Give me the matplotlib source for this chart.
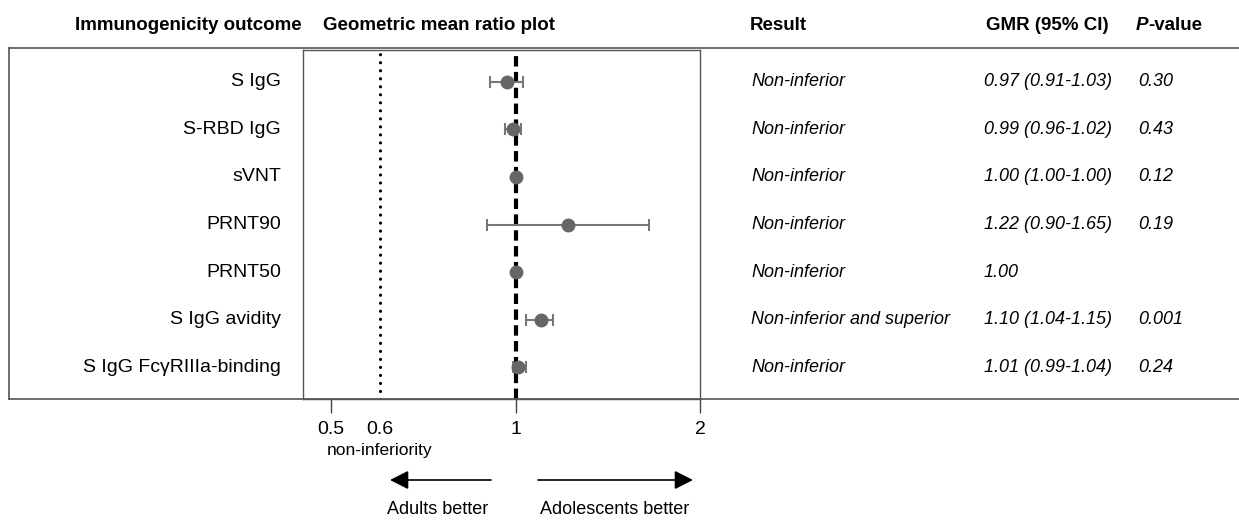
import numpy as np
import matplotlib
matplotlib.use("Agg")
import matplotlib.pyplot as plt
from matplotlib.lines import Line2D
from matplotlib.transforms import blended_transform_factory

plt.rcParams['font.family'] = ['Liberation Sans', 'DejaVu Sans']

# Data
outcomes = ["S IgG", "S-RBD IgG", "sVNT", "PRNT90", "PRNT50",
            "S IgG avidity", "S IgG FcγRIIIa-binding"]
gmr = [0.97, 0.99, 1.00, 1.22, 1.00, 1.10, 1.01]
ci_low = [0.91, 0.96, 1.00, 0.90, np.nan, 1.04, 0.99]
ci_high = [1.03, 1.02, 1.00, 1.65, np.nan, 1.15, 1.04]
results = ["Non-inferior", "Non-inferior", "Non-inferior", "Non-inferior",
           "Non-inferior", "Non-inferior and superior", "Non-inferior"]
gmr_text = ["0.97 (0.91-1.03)", "0.99 (0.96-1.02)", "1.00 (1.00-1.00)",
            "1.22 (0.90-1.65)", "1.00", "1.10 (1.04-1.15)", "1.01 (0.99-1.04)"]
p_values = ["0.30", "0.43", "0.12", "0.19", "", "0.001", "0.24"]
margin = 0.6

W, H = 1239, 521
def fx(px):
    return px / W
def fy(py):
    return 1 - py / H

fig = plt.figure(figsize=(W / 100, H / 100), dpi=100)
ax = fig.add_axes([fx(303), fy(399), fx(700) - fx(303), fy(50) - fy(399)])

rows = np.arange(len(outcomes))
gmr = np.array(gmr)
lo = np.array(ci_low)
hi = np.array(ci_high)
has_ci = ~np.isnan(lo)

# reference lines: no difference and non-inferiority margin
ax.axvline(1, color='black', lw=3, ls=(0, (2.5, 1.3)), zorder=2)
ax.axvline(margin, color='black', lw=2.3, ls=(0, (0.01, 2.5)),
           dash_capstyle='round', zorder=2)

ax.errorbar(gmr[has_ci], rows[has_ci],
            xerr=[gmr[has_ci] - lo[has_ci], hi[has_ci] - gmr[has_ci]],
            fmt='none', ecolor='#777777', elinewidth=1.5, capsize=4.3,
            capthick=1.5, zorder=3)
ax.plot(gmr, rows, 'o', color='#666666', markersize=9, zorder=4)

ax.set_xscale('log')
ax.set_xlim(0.45, 2)
ax.set_ylim(6.67, -0.67)
ax.set_yticks([])
ax.set_xticks([0.5, 1, 2])
ax.set_xticklabels(['0.5', '1', '2'])
ax.set_xticks([margin], minor=True)
ax.set_xticklabels(['0.6'], minor=True)
ax.tick_params(axis='x', which='major', length=10, width=1, color='#444444',
               pad=6, labelsize=14)
ax.tick_params(axis='x', which='minor', length=0, pad=16, labelsize=14)
for s in ax.spines.values():
    s.set_color('#555555')
    s.set_linewidth(1)

# outer frame
lc = '#555555'
fig.add_artist(Line2D([fx(9), 1], [fy(48), fy(48)], color=lc, lw=1.2))
fig.add_artist(Line2D([fx(9), 1], [fy(399), fy(399)], color=lc, lw=1.2))
fig.add_artist(Line2D([fx(9), fx(9)], [fy(48), fy(399)], color=lc, lw=1.2))

# table columns
trans = blended_transform_factory(fig.transFigure, ax.transData)
for i in rows:
    fig.text(fx(281), i, outcomes[i], transform=trans, ha='right',
             va='center', fontsize=14)
    fig.text(fx(751), i, results[i], transform=trans, ha='left',
             va='center', fontsize=13, style='italic')
    fig.text(fx(984), i, gmr_text[i], transform=trans, ha='left',
             va='center', fontsize=13, style='italic')
    fig.text(fx(1138), i, p_values[i], transform=trans, ha='left',
             va='center', fontsize=13, style='italic')

# headers
hy = fy(26)
fig.text(fx(188), hy, "Immunogenicity outcome", ha='center', va='center',
         fontsize=13.5, weight='bold')
fig.text(fx(323), hy, "Geometric mean ratio plot", ha='left', va='center',
         fontsize=13.5, weight='bold')
fig.text(fx(750), hy, "Result", ha='left', va='center',
         fontsize=13.5, weight='bold')
fig.text(fx(986), hy, "GMR (95% CI)", ha='left', va='center',
         fontsize=13.5, weight='bold')
tp = fig.text(fx(1136), hy, "P", ha='left', va='center',
              fontsize=13.5, weight='bold', style='italic')
ax.annotate("-value", xy=(1, 0), xycoords=tp, ha='left', va='bottom',
            fontsize=13.5, weight='bold', annotation_clip=False)

# below axis
tx = blended_transform_factory(ax.transData, fig.transFigure)
fig.text(margin, fy(451), "non-inferiority", transform=tx, ha='center',
         va='center', fontsize=12.5)
arrow = dict(arrowstyle='-|>,head_length=0.75,head_width=0.38', color='black',
             lw=1.2, mutation_scale=15, shrinkA=0, shrinkB=0)
ax.annotate('', xy=(fx(390), fy(480)), xytext=(fx(491), fy(480)),
            xycoords='figure fraction', arrowprops=arrow)
ax.annotate('', xy=(fx(693), fy(480)), xytext=(fx(538), fy(480)),
            xycoords='figure fraction', arrowprops=arrow)
fig.text(fx(438), fy(510), "Adults better", ha='center', va='center',
         fontsize=13)
fig.text(fx(615), fy(510), "Adolescents better", ha='center', va='center',
         fontsize=13)

fig.savefig("out.png", dpi=100)
